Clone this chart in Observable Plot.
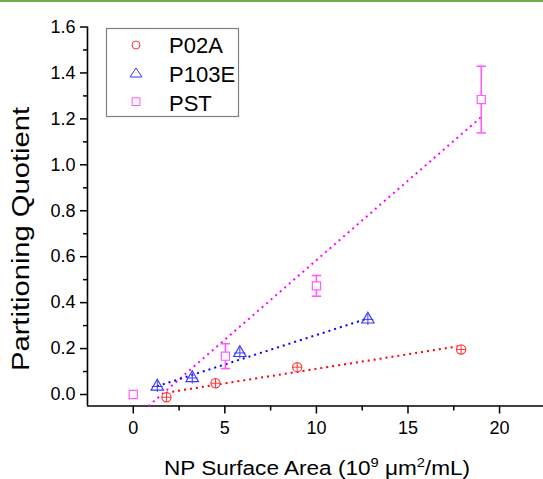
<!DOCTYPE html>
<html><head><meta charset="utf-8">
<script src="https://cdn.jsdelivr.net/npm/d3@7"></script>
<script src="https://cdn.jsdelivr.net/npm/@observablehq/plot@0.6"></script>
<style>
body{margin:0;background:#fff;font-family:"Liberation Sans",Arial,sans-serif;}
#wrap{position:relative;width:543px;height:479px;overflow:hidden;background:#fff;}
#green{position:absolute;left:0;top:0;width:543px;height:2px;background:#70ad47;}
#chart svg{display:block;}
#chart svg g[aria-label$="tick label"], #chart svg g[aria-label$="tick label"] text{font-size:18px !important;}
</style></head>
<body><div id="wrap"><div id="chart"></div><div id="green"></div></div>
<script>
// ---- data ----
const seriesNames = ["P02A", "P103E", "PST"];
const p02aX = [1.81, 4.49, 8.95, 17.9];
const p02aY = [-0.012, 0.049, 0.119, 0.196];
const p103eX = [1.31, 3.22, 5.82, 12.81];
const p103eY = [0.035, 0.072, 0.181, 0.327];
const pstX = [0, 5.03, 10.0, 19.0];
const pstY = [0, 0.167, 0.473, 1.284];
const pstErr = [0, 0.054, 0.045, 0.145];
// linear-fit lines (end points)
const fitP02aX = [1.8, 17.9], fitP02aY = [0.008, 0.212];
const fitP103eX = [1.3, 12.8], fitP103eY = [0.036, 0.331];
const fitPstX = [0.83, 19.0], fitPstY = [-0.05, 1.208];
// ticks
const xTicks = [0, 5, 10, 15, 20];
const xMinor = [2.5, 7.5, 12.5, 17.5];
const yTicks = [0, 0.2, 0.4, 0.6, 0.8, 1.0, 1.2, 1.4, 1.6];
const yMinor = [0.1, 0.3, 0.5, 0.7, 0.9, 1.1, 1.3, 1.5];

const pts = (xs, ys) => xs.map((x, i) => ({x, y: ys[i]}));
const p02a = pts(p02aX, p02aY);
const p103e = pts(p103eX, p103eY);
const pst = pstX.map((x, i) => ({x, y: pstY[i], err: pstErr[i]}));
const pstE = pst.filter(d => d.err > 0);

const plusSym = {draw(ctx, size){ const r = Math.sqrt(size / Math.PI); ctx.moveTo(-r, 0); ctx.lineTo(r, 0); ctx.moveTo(0, -r); ctx.lineTo(0, r); }};
const capSym = {draw(ctx, size){ const r = Math.sqrt(size / Math.PI); ctx.moveTo(-r, 0); ctx.lineTo(r, 0); }};

const RED = "#ff0000", BLUE = "#0000ff", MAG = "#ff00ff";
const RED2 = "#ff3a3a", BLUE2 = "#3a3aff", MAG2 = "#ff5cff";
const dotted = {strokeWidth: 2, strokeDasharray: "2,4", strokeLinecap: "butt"};

const plot = Plot.plot({
  width: 543, height: 479,
  marginLeft: 87, marginRight: 0, marginTop: 26.5, marginBottom: 73.5,
  x: {domain: [-2.5, 22.4]},
  y: {domain: [-0.05, 1.6]},
  style: {fontFamily: "'Liberation Sans', Arial, sans-serif", background: "white", color: "black"},
  marks: [
    Plot.axisY({ticks: yTicks, tickSize: 7, tickPadding: 5, tickFormat: d3.format(".1f"), label: null, strokeWidth: 1.5}),
    Plot.axisY({ticks: yMinor, tickSize: 4, tickFormat: () => "", label: null, strokeWidth: 1.5}),
    Plot.axisX({ticks: xTicks, tickSize: 8, tickPadding: 7, label: null, strokeWidth: 1.5}),
    Plot.axisX({ticks: xMinor, tickSize: 5, tickFormat: () => "", label: null, strokeWidth: 1.5}),
    Plot.ruleX([-2.5], {strokeWidth: 1.6}),
    Plot.ruleY([-0.05], {strokeWidth: 1.6}),
    Plot.line(pts(fitPstX, fitPstY), {x: "x", y: "y", stroke: MAG, ...dotted}),
    Plot.line(pts(fitP103eX, fitP103eY), {x: "x", y: "y", stroke: BLUE, ...dotted}),
    Plot.line(pts(fitP02aX, fitP02aY), {x: "x", y: "y", stroke: RED, ...dotted}),
    Plot.ruleX(pstE, {x: "x", y1: d => d.y - d.err, y2: d => d.y + d.err, stroke: MAG2, strokeWidth: 1.6}),
    Plot.dot(pstE, {x: "x", y: d => d.y + d.err, symbol: capSym, r: 4.7, stroke: MAG2, fill: "none", strokeWidth: 1.6}),
    Plot.dot(pstE, {x: "x", y: d => d.y - d.err, symbol: capSym, r: 4.7, stroke: MAG2, fill: "none", strokeWidth: 1.6}),
    Plot.dot(pst, {x: "x", y: "y", symbol: "square", r: 4.6, stroke: MAG2, fill: "white", strokeWidth: 1.2}),
    Plot.dot(p103e, {x: "x", y: "y", symbol: "triangle", r: 4.6, stroke: BLUE2, fill: "none", strokeWidth: 1.2}),
    Plot.dot(p103e, {x: "x", y: "y", symbol: plusSym, r: 5.5, stroke: BLUE2, fill: "none", strokeWidth: 1}),
    Plot.dot(p02a, {x: "x", y: "y", symbol: "circle", r: 4.6, stroke: RED2, fill: "white", strokeWidth: 1.2}),
    Plot.dot(p02a, {x: "x", y: "y", symbol: plusSym, r: 4.6, stroke: RED2, fill: "none", strokeWidth: 1})
  ]
});

const svg = d3.select(plot);

// axis titles
svg.append("text")
  .attr("transform", "translate(29,239) rotate(-90)")
  .attr("text-anchor", "middle").attr("font-size", 23).attr("fill", "black")
  .attr("textLength", 264).attr("lengthAdjust", "spacingAndGlyphs")
  .text("Partitioning Quotient");
const xt = svg.append("text").attr("x", 164).attr("y", 475).attr("font-size", 20).attr("fill", "black")
  .attr("text-anchor", "start")
  .attr("textLength", 306).attr("lengthAdjust", "spacingAndGlyphs");
xt.append("tspan").text("NP Surface Area (10");
xt.append("tspan").attr("font-size", 13).attr("dy", -8).text("9");
xt.append("tspan").attr("dy", 8).text(" \u03bcm");
xt.append("tspan").attr("font-size", 13).attr("dy", -8).text("2");
xt.append("tspan").attr("dy", 8).text("/mL)");

// legend
const lg = svg.append("g").attr("text-anchor", "start");
lg.append("rect").attr("x", 106.5).attr("y", 28.5).attr("width", 132).attr("height", 88)
  .attr("fill", "white").attr("stroke", "#808080").attr("stroke-width", 1.2);
const ly = [45, 73, 101.7];
lg.append("circle").attr("cx", 136).attr("cy", ly[0]).attr("r", 4).attr("fill", "none").attr("stroke", RED2);
lg.append("path").attr("d", `M130,${ly[1] + 4}L142,${ly[1] + 4}L136,${ly[1] - 5}Z`).attr("fill", "none").attr("stroke", BLUE2);
lg.append("rect").attr("x", 132.2).attr("y", ly[2] - 3.9).attr("width", 7.7).attr("height", 7.7).attr("fill", "none").attr("stroke", MAG2);
const lb = [53.3, 82.3, 110.5];
seriesNames.forEach((s, i) => {
  lg.append("text").attr("x", 169).attr("y", lb[i]).attr("font-size", 22).attr("fill", "black").attr("text-anchor", "start").text(s);
});

document.getElementById("chart").appendChild(plot);
</script></body></html>
